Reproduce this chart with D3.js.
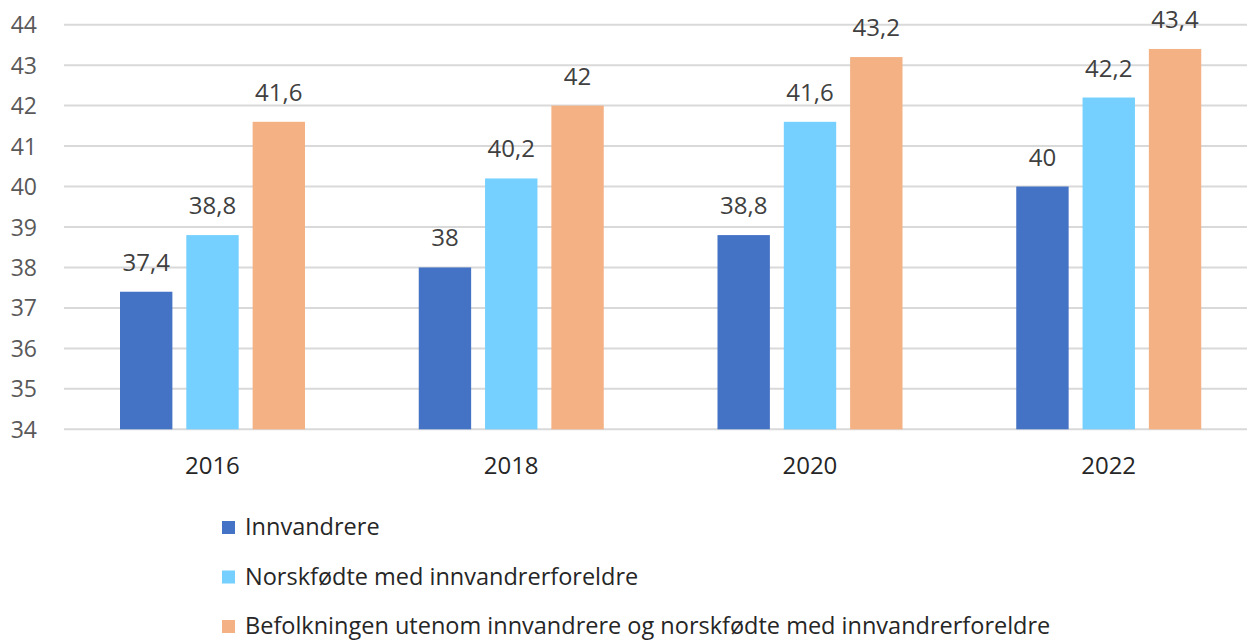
<!DOCTYPE html>
<html><head><meta charset="utf-8">
<script src="https://cdn.jsdelivr.net/npm/d3@7"></script>
<style>body{margin:0;background:#fff}svg{display:block}</style>
</head><body>
<svg id="c" width="1247" height="643"></svg>
<script>
const categories = ["2016","2018","2020","2022"];
const seriesNames = ["Innvandrere","Norskfødte med innvandrerforeldre","Befolkningen utenom innvandrere og norskfødte med innvandrerforeldre"];
const innvandrere = [37.4, 38, 38.8, 40];
const norskfodte = [38.8, 40.2, 41.6, 42.2];
const befolkningen = [41.6, 42, 43.2, 43.4];
const yTicks = [34,35,36,37,38,39,40,41,42,43,44];
const colors = ["#4472C4","#75D0FF","#F4B183"];

const series = [innvandrere, norskfodte, befolkningen];
const svg = d3.select("#c");
const font = "'Open Sans', sans-serif";
const textCol = "#595959";

const y = d3.scaleLinear().domain([34,44]).range([429.3,24.7]);
const x0 = d3.scaleBand().domain(categories).range([63,1258]).paddingInner(0).paddingOuter(0);
const x1 = d3.scaleBand().domain(d3.range(3)).range([57,57+185]).paddingInner(0.21).paddingOuter(0);

// gridlines
svg.append("g").selectAll("line").data(yTicks).join("line")
  .attr("x1",64).attr("x2",1247)
  .attr("y1",d=>y(d)).attr("y2",d=>y(d))
  .attr("stroke","#D9D9D9").attr("stroke-width",2);

// y axis labels
const yAxis = d3.axisLeft(y).tickValues(yTicks).tickSize(0).tickPadding(0).tickFormat(d=>d);
const ga = svg.append("g").attr("transform","translate(37,0)").call(yAxis);
ga.select(".domain").remove();
ga.selectAll("text").attr("font-family",font).attr("font-size",23).attr("fill",textCol).attr("dy","0.35em");

// bars
const groups = svg.append("g").selectAll("g").data(categories).join("g")
  .attr("transform",d=>`translate(${x0(d)},0)`);
groups.selectAll("rect").data((d,i)=>series.map((s,k)=>({k,v:s[i]}))).join("rect")
  .attr("x",d=>x1(d.k)).attr("width",x1.bandwidth())
  .attr("y",d=>y(d.v)).attr("height",d=>y(34)-y(d.v))
  .attr("fill",d=>colors[d.k]);
groups.selectAll("text.lbl").data((d,i)=>series.map((s,k)=>({k,v:s[i]}))).join("text")
  .attr("class","lbl")
  .attr("x",d=>x1(d.k)+x1.bandwidth()/2).attr("y",d=>y(d.v)-21)
  .attr("text-anchor","middle").attr("font-family",font).attr("font-size",24)
  .attr("fill","#404040").text(d=>String(d.v).replace(".",","));

// x axis labels
const xAxis = d3.axisBottom(x0).tickSize(0).tickPadding(0);
const gx = svg.append("g").attr("transform","translate(0,474)").call(xAxis);
gx.select(".domain").remove();
gx.selectAll("text").attr("font-family",font).attr("font-size",24).attr("fill","#262626").attr("dy",0);

// legend
const lg = svg.append("g").selectAll("g").data(seriesNames).join("g")
  .attr("transform",(d,i)=>`translate(222,${535+i*49.5})`);
lg.append("rect").attr("x",0).attr("y",-14).attr("width",13).attr("height",13).attr("fill",(d,i)=>colors[i]);
lg.append("text").attr("x",23).attr("y",0).attr("font-family",font).attr("font-size",23.5)
  .attr("fill","#262626").text(d=>d);
</script>
</body></html>
